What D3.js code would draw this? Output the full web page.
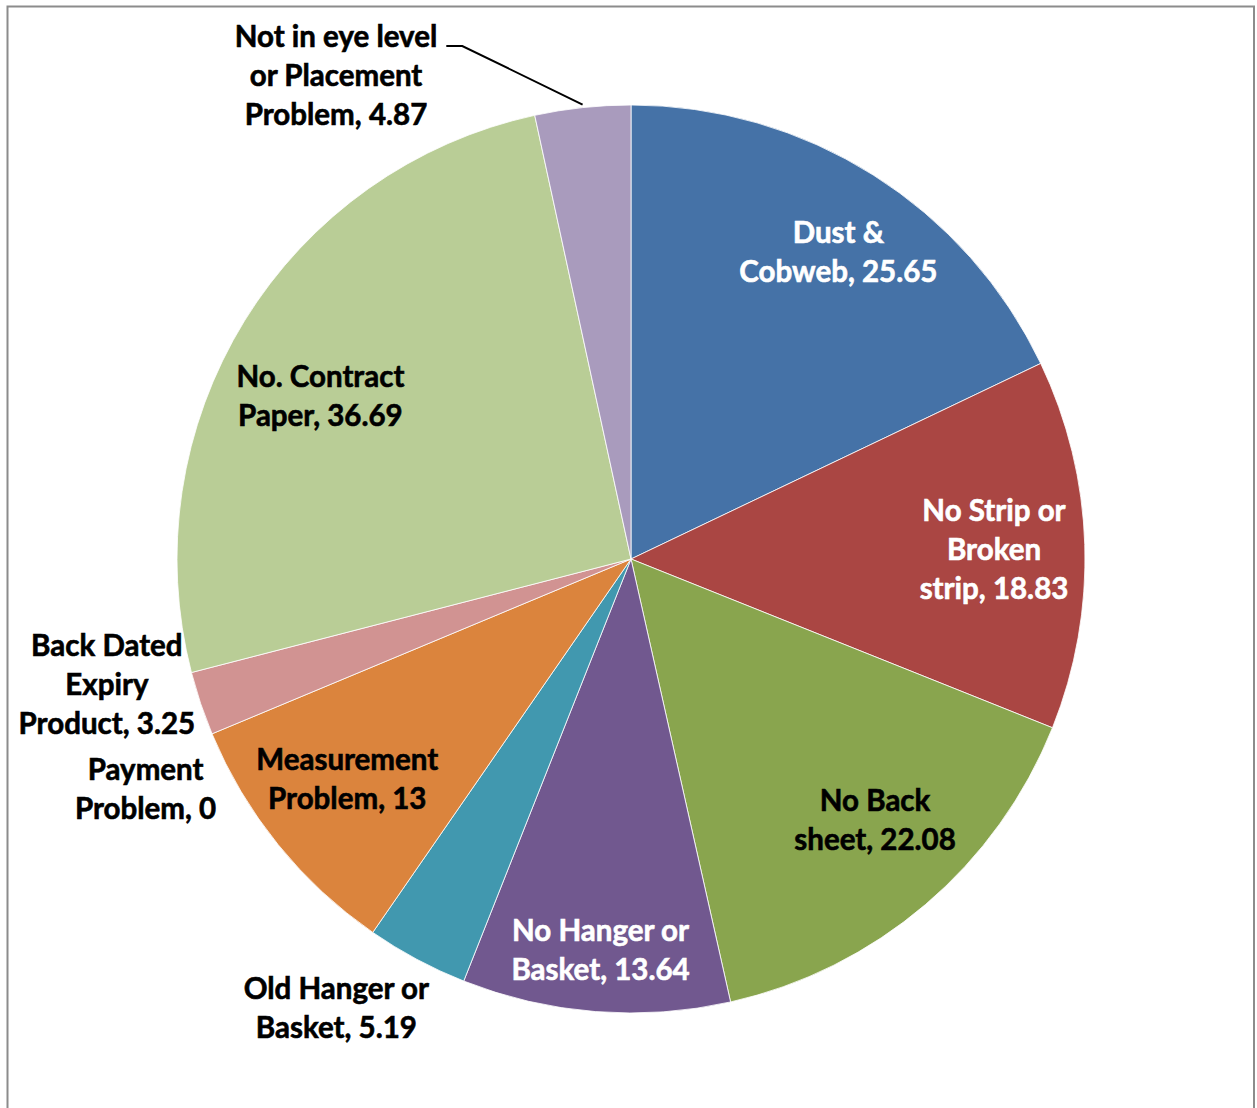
<!DOCTYPE html>
<html>
<head>
<meta charset="utf-8">
<script src="https://cdn.jsdelivr.net/npm/d3@7/dist/d3.min.js"></script>
<style>
  html, body { margin: 0; padding: 0; background: #fff; }
  svg { display: block; }
</style>
</head>
<body>
<script>
// Shelf audit findings, in drawing order (clockwise from 12 o'clock)
const categories = [
  "Dust & Cobweb",
  "No Strip or Broken strip",
  "No Back sheet",
  "No Hanger or Basket",
  "Old Hanger or Basket",
  "Measurement Problem",
  "Payment Problem",
  "Back Dated Expiry Product",
  "No. Contract Paper",
  "Not in eye level or Placement Problem"
];
const values = [25.65, 18.83, 22.08, 13.64, 5.19, 13, 0, 3.25, 36.69, 4.87];

// Wrapped label lines (the last line carries the value)
const labelLines = [
  ["Dust &", "Cobweb, 25.65"],
  ["No Strip or", "Broken", "strip, 18.83"],
  ["No Back", "sheet, 22.08"],
  ["No Hanger or", "Basket, 13.64"],
  ["Old Hanger or", "Basket, 5.19"],
  ["Measurement", "Problem, 13"],
  ["Payment", "Problem, 0"],
  ["Back Dated", "Expiry", "Product, 3.25"],
  ["No. Contract", "Paper, 36.69"],
  ["Not in eye level", "or Placement", "Problem, 4.87"]
];

const colors = ["#4572A7", "#AA4643", "#89A54E", "#71588F", "#4198AF",
                "#DB843D", "#93A9CF", "#D19392", "#B9CD96", "#A99BBD"];

const W = 1257, H = 1108;
const cx = 631, cy = 559, R = 454;

const svg = d3.select("body").append("svg")
  .attr("width", W).attr("height", H);

// chart frame
svg.append("rect")
  .attr("x", 7.5).attr("y", 6.5)
  .attr("width", 1246.5).attr("height", 1120)
  .attr("fill", "#fff")
  .attr("stroke", "#8c8c8c").attr("stroke-width", 2);

const data = categories.map((c, i) => ({ name: c, value: values[i], i }));

const pie = d3.pie().value(d => d.value).sort(null);
const arcs = pie(data);

const arc = d3.arc().innerRadius(0).outerRadius(R);

const g = svg.append("g").attr("transform", `translate(${cx},${cy})`);

g.selectAll("path.slice")
  .data(arcs.filter(a => a.data.value > 0))
  .join("path")
  .attr("class", "slice")
  .attr("d", arc)
  .attr("fill", a => colors[a.data.i])
  .attr("stroke", "#fff")
  .attr("stroke-width", 1)
  .attr("stroke-opacity", 0.8);

// Label placement: fraction of radius along the slice's mid-angle,
// plus pixel nudges so neighbouring labels stay clear of each other
const labelRadius = [0.815, 0.80, 0.785, 0.86, 1.18, 0.79, 1.18, 1.19, 0.77, 1.0];
const labelNudge  = [[10, 6], [0, 2], [13, -10], [0, 2], [-42, -23],
                     [-5, -5], [9, 24], [-12, -46], [-13, 21], [0, 0]];
const labelColor  = ["#fff", "#fff", "#000", "#fff", "#000", "#000", "#000", "#000", "#000", "#000"];

const fontSize = 29.5;
const lineH = 39;

function midPoint(a, k) {
  const ang = (a.startAngle + a.endAngle) / 2;
  return [Math.sin(ang) * R * k, -Math.cos(ang) * R * k];
}

const labels = g.append("g")
  .attr("font-family", "Lato, 'Open Sans', sans-serif")
  .attr("font-weight", "bold")
  .attr("font-size", fontSize)
  .attr("text-anchor", "middle");

arcs.forEach((a, idx) => {
  let [x, y] = midPoint(a, labelRadius[idx]);
  x += labelNudge[idx][0];
  y += labelNudge[idx][1];
  const lines = labelLines[idx];

  // The thin top slice gets its label lifted up-left, above the pie
  const leader = idx === 9;
  if (leader) {
    x = -295;
    y = -483;
  }

  const t = labels.append("text")
    .attr("fill", labelColor[idx])
    .attr("stroke", labelColor[idx])
    .attr("stroke-width", 0.6);
  const y0 = y - (lines.length - 1) * lineH / 2;
  const spans = lines.map((ln, j) =>
    t.append("tspan")
      .attr("x", x)
      .attr("y", y0 + j * lineH)
      .attr("dy", "0.35em")
      .text(ln));

  if (leader) {
    // leader line from the end of the first label line to the slice edge
    const [ex, ey] = midPoint(a, 1.0);
    const w0 = spans[0].node().getComputedTextLength();
    const tx = x + w0 / 2 + 9, ty = y0 + 9;
    g.append("polyline")
      .attr("points", [[tx, ty], [tx + 16, ty], [ex, ey - 3]].map(p => p.join(",")).join(" "))
      .attr("fill", "none")
      .attr("stroke", "#000")
      .attr("stroke-width", 2);
  }
});
</script>
</body>
</html>
